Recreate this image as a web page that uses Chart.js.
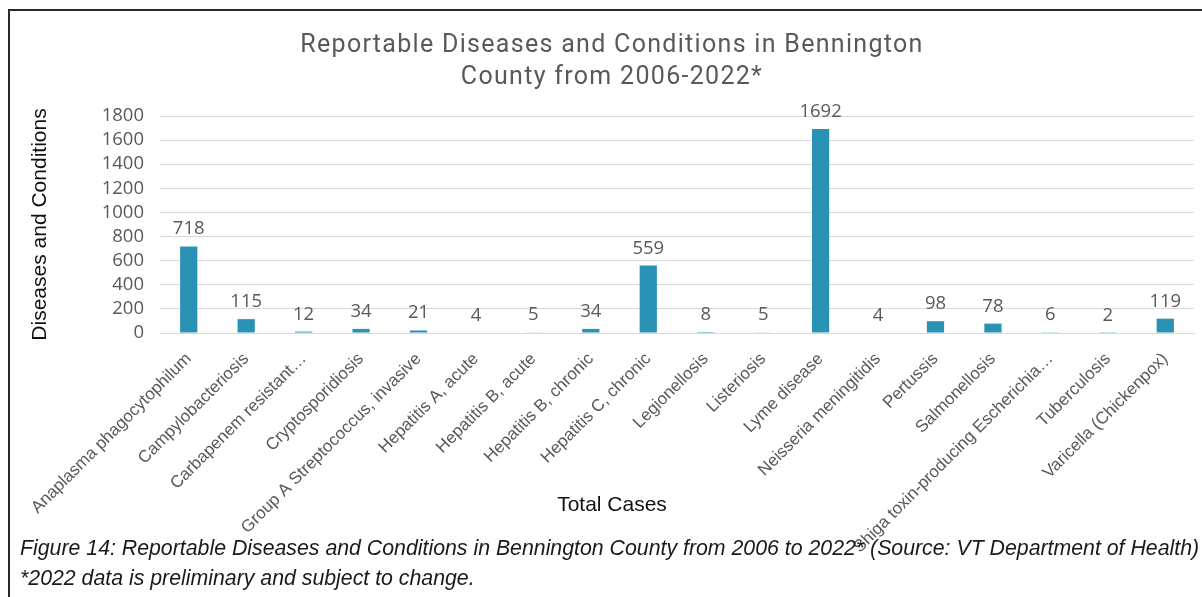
<!DOCTYPE html>
<html>
<head>
<meta charset="utf-8">
<script src="https://cdn.jsdelivr.net/npm/chart.js@4.4.1/dist/chart.umd.min.js"></script>
<style>
  html, body { margin: 0; padding: 0; background: #fff; overflow: hidden; }
  #wrap { position: relative; width: 1202px; height: 597px; }
  #chart { position: absolute; left: 0; top: 0; }
  #frame {
    position: absolute; left: 8px; top: 9px; width: 1300px; height: 700px;
    border-left: 2px solid #2a2a2a; border-top: 2px solid #2a2a2a;
    pointer-events: none;
  }
  #caption {
    position: absolute; left: 20px; top: 533px; white-space: nowrap;
    font-family: "Liberation Sans", Arial, sans-serif; font-style: italic;
    font-size: 21.3px; line-height: 30px; color: #1a1a1a;
  }
</style>
</head>
<body>
<div id="wrap">
  <canvas id="chart" width="1202" height="597"></canvas>
  <div id="frame"></div>
  <div id="caption">
    Figure 14: Reportable Diseases and Conditions in Bennington County from 2006 to 2022* (Source: VT Department of Health)<br>
    *2022 data is preliminary and subject to change.
  </div>
</div>
<script>
// Case counts per disease, 2006-2022
const diseases = [
    'Anaplasma phagocytophilum',
    'Campylobacteriosis',
    'Carbapenem resistant…',
    'Cryptosporidiosis',
    'Group A Streptococcus, invasive',
    'Hepatitis A, acute',
    'Hepatitis B, acute',
    'Hepatitis B, chronic',
    'Hepatitis C, chronic',
    'Legionellosis',
    'Listeriosis',
    'Lyme disease',
    'Neisseria meningitidis',
    'Pertussis',
    'Salmonellosis',
    'Shiga toxin-producing Escherichia…',
    'Tuberculosis',
    'Varicella (Chickenpox)'
];
const totalCases = [718, 115, 12, 34, 21, 4, 5, 34, 559, 8, 5, 1692, 4, 98, 78, 6, 2, 119];

const titleLines = ['Reportable Diseases and Conditions in Bennington', 'County from 2006-2022*'];
const yAxisTitle = 'Diseases and Conditions';
const xAxisTitle = 'Total Cases';

const barColor = '#2a93b5';
const greyText = '#595959';
const numberFont = '"Open Sans"';

// Draws the count above each bar
const valueLabels = {
    id: 'valueLabels',
    afterDatasetsDraw(chart) {
        const ctx = chart.ctx;
        const meta = chart.getDatasetMeta(0);
        ctx.save();
        ctx.font = '18.5px ' + numberFont + ', sans-serif';
        ctx.fillStyle = greyText;
        ctx.textAlign = 'center';
        ctx.textBaseline = 'alphabetic';
        meta.data.forEach((bar, i) => {
            ctx.fillText(String(chart.data.datasets[0].data[i]), bar.x, bar.y - 12);
        });
        ctx.restore();
    }
};

// Two-line title (spaced out a little) and the x axis title,
// both centred on the whole figure rather than the plot area
const figureTitles = {
    id: 'figureTitles',
    afterDraw(chart) {
        const ctx = chart.ctx;
        const cx = 612;
        ctx.save();
        ctx.textAlign = 'center';
        ctx.textBaseline = 'alphabetic';
        ctx.font = '25px Roboto, sans-serif';
        ctx.fillStyle = greyText;
        ctx.letterSpacing = '1.3px';
        titleLines.forEach((line, i) => ctx.fillText(line, cx, 52 + i * 32));
        ctx.letterSpacing = '0px';

        ctx.font = '21px "Liberation Sans", Arial, sans-serif';
        ctx.fillStyle = '#111';
        ctx.textBaseline = 'middle';
        ctx.fillText(xAxisTitle, cx, chart.chartArea.bottom + 172);
        ctx.restore();
    }
};

const ctx = document.getElementById('chart').getContext('2d');
const chart = new Chart(ctx, {
    type: 'bar',
    data: {
        labels: diseases,
        datasets: [{
            label: xAxisTitle,
            data: totalCases,
            backgroundColor: barColor,
            borderWidth: 0,
            categoryPercentage: 1,
            barPercentage: 0.3
        }]
    },
    options: {
        responsive: false,
        animation: false,
        layout: {
            padding: { left: 30, right: 8, top: 116, bottom: 0 }
        },
        plugins: {
            legend: { display: false },
            tooltip: { enabled: false },
            title: { display: false }
        },
        scales: {
            x: {
                grid: { display: false, drawTicks: false },
                border: { display: true, color: '#d9d9d9' },
                ticks: {
                    autoSkip: false,
                    maxRotation: 45,
                    minRotation: 45,
                    padding: 16,
                    color: greyText,
                    font: { family: '"Liberation Sans", Arial', size: 17 }
                },
                afterFit(scale) { scale.height = 264; }
            },
            y: {
                min: 0,
                max: 1800,
                grid: { color: '#d9d9d9', drawTicks: false },
                border: { display: false },
                ticks: {
                    autoSkip: false,
                    stepSize: 200,
                    padding: 16,
                    color: greyText,
                    font: { family: numberFont, size: 18.5 },
                    callback: value => String(value)
                },
                title: {
                    display: true,
                    text: yAxisTitle,
                    color: '#111',
                    font: { family: '"Liberation Sans", Arial', size: 21, lineHeight: 1.2 },
                    padding: { top: -2, bottom: 0 }
                },
                afterFit(scale) { scale.width = 130; }
            }
        }
    },
    plugins: [valueLabels, figureTitles]
});
</script>
</body>
</html>
